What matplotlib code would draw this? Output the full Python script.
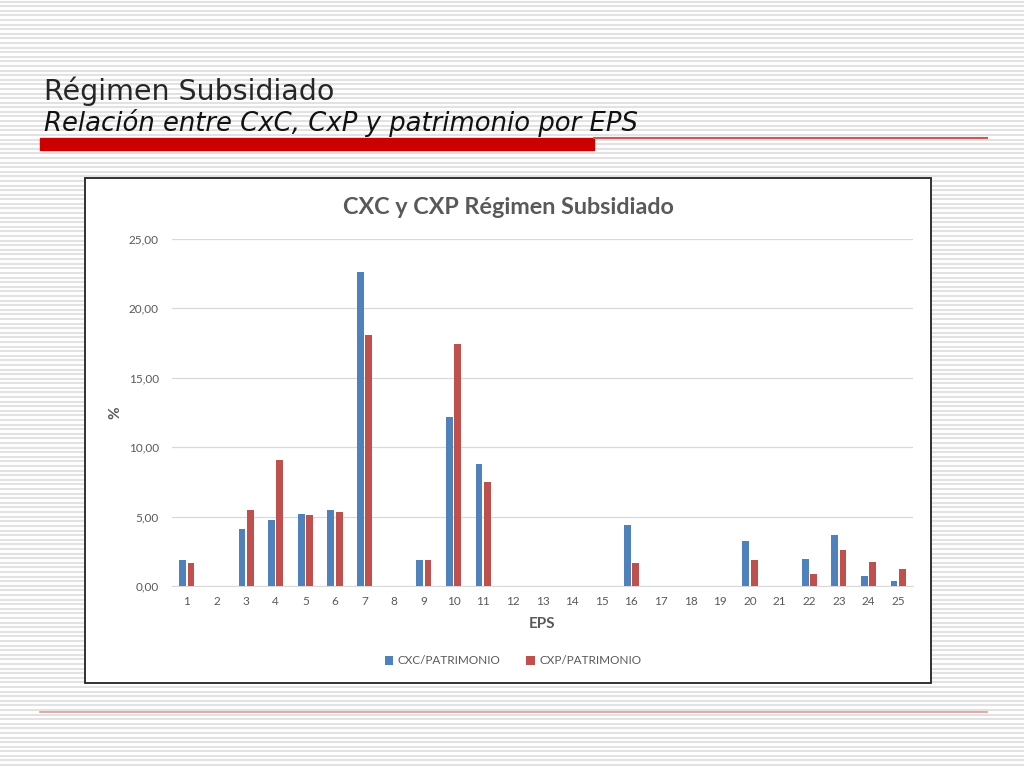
import matplotlib
matplotlib.use("Agg")
import matplotlib.pyplot as plt
from matplotlib.patches import Rectangle
from matplotlib.lines import Line2D
import numpy as np

# ---- data ----
categories = [str(i) for i in range(1, 26)]
cxc_patrimonio = [1.90, 0, 4.11, 4.73, 5.16, 5.45, 22.60, 0, 1.90, 12.18, 8.79, 0, 0, 0, 0,
                  4.38, 0, 0, 0, 3.27, 0, 1.97, 3.68, 0.75, 0.38]
cxp_patrimonio = [1.68, 0, 5.50, 9.08, 5.09, 5.36, 18.06, 0, 1.90, 17.46, 7.49, 0, 0, 0, 0,
                  1.66, 0, 0, 0, 1.88, 0, 0.87, 2.60, 1.75, 1.23]
series_names = ["CXC/PATRIMONIO", "CXP/PATRIMONIO"]
y_ticks = [0, 5, 10, 15, 20, 25]

W, H = 1024, 768
fig = plt.figure(figsize=(W / 100, H / 100), dpi=100)
CF = "Lato"

def fx(x):
    return x / W

def fy(y):
    return 1 - y / H

# background stripes
bg = fig.add_axes([0, 0, 1, 1], zorder=-10)
bg.set_xlim(0, W)
bg.set_ylim(H, 0)
bg.axis("off")
ys = np.arange(1.5, H, 4.6)
bg.hlines(ys, 0, W, colors="#e2e2e2", linewidth=1.5)

# title block
fig.text(fx(44), fy(91), "Régimen Subsidiado", fontsize=20.5, color="#262626",
         family="DejaVu Sans", va="center", ha="left")
fig.text(fx(44), fy(123), "Relación entre CxC, CxP y patrimonio por EPS", fontsize=18.6,
         color="#111111", family="DejaVu Sans", style="italic",
         va="center", ha="left")
fig.add_artist(Rectangle((fx(40), fy(150)), fx(594) - fx(40), (150 - 138) / H,
                         transform=fig.transFigure, color="#cc0000", zorder=2))
fig.add_artist(Line2D([fx(594), fx(987)], [fy(137.5), fy(137.5)],
                      transform=fig.transFigure, color="#c85a5a", linewidth=1.5))
fig.add_artist(Line2D([fx(40), fx(987)], [fy(711.5), fy(711.5)],
                      transform=fig.transFigure, color="#dc9a9a", linewidth=1.2))

# chart box
fig.add_artist(Rectangle((fx(85), fy(683)), fx(931) - fx(85), (683 - 178) / H,
                         transform=fig.transFigure, facecolor="white",
                         edgecolor="#222222", linewidth=1.3, zorder=1))

ax = fig.add_axes([fx(172), fy(586), fx(913) - fx(172), (586 - 239) / H], zorder=5)
ax.patch.set_alpha(0)
x = np.arange(len(categories))
bw = 0.23
off = 0.14
ax.bar(x - off, cxc_patrimonio, bw, color="#4f81bd", label=series_names[0], zorder=3)
ax.bar(x + off, cxp_patrimonio, bw, color="#c0504d", label=series_names[1], zorder=3)
ax.set_xlim(-0.5, len(categories) - 0.5)
ax.set_ylim(0, 25)
ax.set_yticks(y_ticks)
ax.set_yticklabels([f"{v:.2f}".replace(".", ",") for v in y_ticks])
ax.set_xticks(x)
ax.set_xticklabels(categories)
ax.tick_params(axis="both", length=0, labelsize=8.5, labelcolor="#595959")
for lab in ax.get_xticklabels() + ax.get_yticklabels():
    lab.set_family(CF)
ax.tick_params(axis="x", pad=7)
ax.tick_params(axis="y", pad=9.5)
ax.grid(axis="y", color="#d9d9d9", linewidth=0.9, zorder=0)
for s in ["top", "right", "left"]:
    ax.spines[s].set_visible(False)
ax.spines["bottom"].set_color("#d9d9d9")
ax.set_ylabel("%", fontsize=11, fontweight="bold", color="#595959", family=CF)
ax.yaxis.set_label_coords(-57 / 741, 0.5)
ax.set_xlabel("EPS", fontsize=11, fontweight="bold", color="#595959", family=CF)
ax.xaxis.set_label_coords(0.5, -(624 - 586) / 347)
ax.xaxis.label.set_va("center")
ax.yaxis.label.set_va("center")

fig.text(fx(508), fy(207), "CXC y CXP Régimen Subsidiado", fontsize=16.8,
         fontweight="bold", color="#595959", ha="center", va="center", zorder=6,
         family=CF)

leg = ax.legend(loc="center", bbox_to_anchor=(fx(513), fy(661)),
                bbox_transform=fig.transFigure, ncol=2, frameon=False,
                prop={"family": CF, "size": 8.5}, handlelength=0.7, handleheight=0.7,
                handletextpad=0.4, columnspacing=2.2)
for t in leg.get_texts():
    t.set_color("#595959")

fig.savefig("out.png", dpi=100)
